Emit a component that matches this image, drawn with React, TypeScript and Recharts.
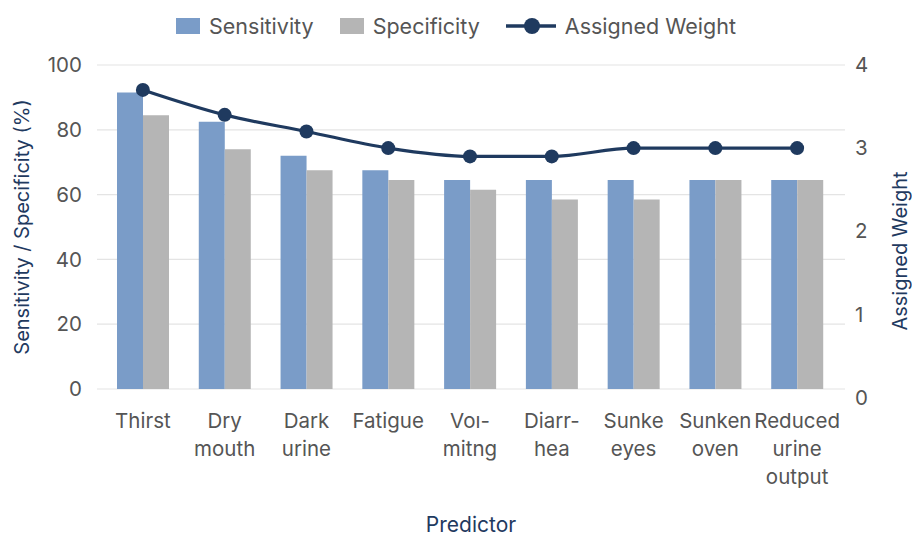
import React from 'react';
import {
  ComposedChart,
  Bar,
  Line,
  XAxis,
  YAxis,
  CartesianGrid,
  Legend,
} from 'recharts';

const FONT = 'Inter, "Noto Sans", "DejaVu Sans", sans-serif';
const NAVY = '#1F3A5F';
const BLUE = '#7A9CC8';
const GREY = '#B5B5B5';
const TICK = '#555555';

// Predictor names, with line breaks as they wrap under the axis
const predictors = [
  'Thirst',
  'Dry\nmouth',
  'Dark\nurine',
  'Fatigue',
  'Voı-\nmitng',
  'Diarr-\nhea',
  'Sunke\neyes',
  'Sunken\noven',
  'Reduced\nurine\noutput',
];

// Sensitivity and specificity in percent
const sensitivity = [91.5, 82.5, 72, 67.5, 64.5, 64.5, 64.5, 64.5, 64.5];
const specificity = [84.5, 74, 67.5, 64.5, 61.5, 58.5, 58.5, 64.5, 64.5];

// Weight assigned to each predictor
const weights = [3.7, 3.4, 3.2, 3.0, 2.9, 2.9, 3.0, 3.0, 3.0];

const percentTicks = [0, 20, 40, 60, 80, 100];
const weightTicks = [0, 1, 2, 3, 4];

// Legend entries in the order they are listed
const legendOrder = ['Sensitivity', 'Specificity', 'Assigned Weight'];

const data = predictors.map((predictor, i) => ({
  predictor,
  sensitivity: sensitivity[i],
  specificity: specificity[i],
  weight: weights[i],
}));

function PredictorTick(props: any) {
  const { x, y, payload } = props;
  const lines = String(payload.value).split('\n');
  return (
    <text x={x} y={y} textAnchor="middle" fill={TICK} fontSize={20.5} fontFamily={FONT}>
      {lines.map((line, i) => (
        <tspan key={i} x={x} dy={i === 0 ? 39 : 28}>
          {line}
        </tspan>
      ))}
    </text>
  );
}

function LegendContent(props: any) {
  const payload = [...(props.payload || [])].sort(
    (a: any, b: any) => legendOrder.indexOf(a.value) - legendOrder.indexOf(b.value),
  );
  return (
    <div
      style={{
        display: 'flex',
        justifyContent: 'center',
        alignItems: 'center',
        fontFamily: FONT,
        fontSize: 21.5,
        color: TICK,
        height: 30,
        paddingLeft: 0,
      }}
    >
      {payload.map((entry: any, i: number) => (
        <div
          key={i}
          style={{ display: 'flex', alignItems: 'center', marginLeft: i === 0 ? 0 : 26 }}
        >
          {entry.type === 'line' ? (
            <svg width={50} height={20} style={{ marginRight: 9 }}>
              <line x1={0} y1={10} x2={50} y2={10} stroke={NAVY} strokeWidth={3.5} />
              <circle cx={26} cy={10} r={8} fill={NAVY} />
            </svg>
          ) : (
            <div
              style={{
                width: 24,
                height: 16,
                background: entry.color,
                marginRight: 9,
              }}
            />
          )}
          <span>{entry.value}</span>
        </div>
      ))}
    </div>
  );
}

function AxisTitle(props: any) {
  const { viewBox, value, dx = 0, dy = 0 } = props;
  const cx = viewBox.x + dx;
  const cy = viewBox.y + viewBox.height / 2 + dy;
  return (
    <text
      x={cx}
      y={cy}
      transform={`rotate(-90, ${cx}, ${cy})`}
      textAnchor="middle"
      dominantBaseline="central"
      fill={NAVY}
      fontSize={20}
      fontFamily={FONT}
    >
      {value}
    </text>
  );
}

export default function App() {
  return (
    <div style={{ position: 'absolute', left: 0, top: 0, width: 912, height: 537, background: '#fff' }}>
      <ComposedChart
        width={912}
        height={537}
        data={data}
        margin={{ top: 35, right: 0, bottom: 0, left: 0 }}
        barGap={0}
      >
        <CartesianGrid yAxisId="pct" vertical={false} stroke="#E4E4E4" strokeWidth={1.2} />
        <XAxis
          dataKey="predictor"
          interval={0}
          height={148}
          axisLine={false}
          tickLine={false}
          tickSize={0}
          tickMargin={0}
          padding={{ left: 5, right: 7 }}
          tick={<PredictorTick />}
          label={{
            value: 'Predictor',
            position: 'insideBottom',
            offset: 5,
            fill: NAVY,
            fontSize: 21,
            fontFamily: FONT,
          }}
        />
        <YAxis
          yAxisId="pct"
          orientation="left"
          width={97}
          domain={[0, 100]}
          ticks={percentTicks}
          axisLine={false}
          tickLine={false}
          tickSize={0}
          tickMargin={15}
          tick={{ fill: TICK, fontSize: 20.5, fontFamily: FONT }}
          label={<AxisTitle value="Sensitivity / Specificity (%)" dx={22} />}
        />
        <YAxis
          yAxisId="wt"
          orientation="right"
          width={67}
          domain={[0.1, 4]}
          ticks={weightTicks}
          allowDataOverflow
          axisLine={false}
          tickLine={false}
          tickSize={0}
          tickMargin={10}
          tick={{ fill: TICK, fontSize: 20.5, fontFamily: FONT }}
          label={<AxisTitle value="Assigned Weight" dx={55} dy={24} />}
        />
        <Legend
          verticalAlign="top"
          align="center"
          wrapperStyle={{ top: 11, height: 30 }}
          content={<LegendContent />}
        />
        <Bar
          yAxisId="pct"
          dataKey="sensitivity"
          name="Sensitivity"
          fill={BLUE}
          barSize={26}
          isAnimationActive={false}
          legendType="rect"
        />
        <Bar
          yAxisId="pct"
          dataKey="specificity"
          name="Specificity"
          fill={GREY}
          barSize={26}
          isAnimationActive={false}
          legendType="rect"
        />
        <Line
          yAxisId="wt"
          dataKey="weight"
          name="Assigned Weight"
          type="monotone"
          stroke={NAVY}
          strokeWidth={3.2}
          dot={{ r: 7, fill: NAVY, stroke: NAVY, strokeWidth: 0 }}
          activeDot={false}
          isAnimationActive={false}
          legendType="line"
        />
      </ComposedChart>
    </div>
  );
}
